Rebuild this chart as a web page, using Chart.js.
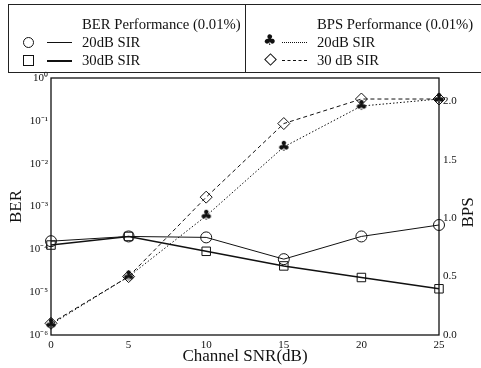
<!DOCTYPE html>
<html>
<head>
<title>BER / BPS vs Channel SNR</title>
<script src="https://cdn.jsdelivr.net/npm/chart.js"></script>
<style>
  body { margin:0; background:#fff; overflow:hidden; font-family:"Liberation Serif", serif; color:#111; }
  #wrap { position:relative; width:481px; height:368px; }
  #wrap canvas { position:absolute; left:0; top:0; }
  .box { position:absolute; left:8px; top:4px; width:490px; height:67px; border:1px solid #222; }
  .divider { position:absolute; left:245px; top:4px; width:1px; height:68px; background:#222; }
  .txt { position:absolute; font-size:14.7px; line-height:18px; white-space:nowrap; }
  .ln { position:absolute; width:25px; height:0; }
  .mk { position:absolute; box-sizing:border-box; }
</style>
</head>
<body>
<div id="wrap">
  <canvas id="myChart" width="481" height="368"></canvas>
  <div class="box"></div>
  <div class="divider"></div>

  <div class="txt" style="left:82px; top:15px;">BER Performance (0.01%)</div>
  <div class="mk" style="left:23px; top:37px; width:11px; height:11px; border:1px solid #111; border-radius:50%;"></div>
  <div class="ln" style="left:47px; top:42px; border-top:1px solid #111;"></div>
  <div class="txt" style="left:82px; top:33px;">20dB SIR</div>
  <div class="mk" style="left:23px; top:55px; width:11px; height:11px; border:1px solid #111;"></div>
  <div class="ln" style="left:47px; top:60px; border-top:2px solid #111;"></div>
  <div class="txt" style="left:82px; top:51px;">30dB SIR</div>

  <div class="txt" style="left:317px; top:15px;">BPS Performance (0.01%)</div>
  <div class="txt" style="left:263px; top:31px; font-family:'DejaVu Sans'; font-size:15px;">&#9827;</div>
  <div class="ln" style="left:282px; top:42px; border-top:1px dotted #111;"></div>
  <div class="txt" style="left:317px; top:33px;">20dB SIR</div>
  <div class="mk" style="left:266px; top:55px; width:9px; height:9px; border:1px solid #111; transform:rotate(45deg);"></div>
  <div class="ln" style="left:282px; top:60px; border-top:1px dashed #111;"></div>
  <div class="txt" style="left:317px; top:51px;">30 dB SIR</div>
</div>
<script>
// values
const snr = [0, 5, 10, 15, 20, 25];
const ber20 = [1.55e-4, 2.0e-4, 1.9e-4, 5.9e-5, 2.0e-4, 3.7e-4];
const ber30 = [1.26e-4, 2.0e-4, 9.0e-5, 4.1e-5, 2.2e-5, 1.2e-5];
const bps20 = [0.09, 0.50, 1.02, 1.61, 1.96, 2.02];
const bps30 = [0.10, 0.50, 1.18, 1.81, 2.02, 2.02];

const berTicks = [1, 1e-1, 1e-2, 1e-3, 1e-4, 1e-5, 1e-6];
const berTickLabels = ['10⁰', '10⁻¹', '10⁻²', '10⁻³', '10⁻⁴', '10⁻⁵', '10⁻⁶'];
const bpsTicks = [0, 0.5, 1.0, 1.5, 2.0];

function pts(ys) {
  return snr.map((x, i) => ({ x: x, y: ys[i] }));
}

// club marker for the 20dB BPS curve
const club = document.createElement('canvas');
club.width = 14; club.height = 14;
const cc = club.getContext('2d');
cc.fillStyle = '#111';
cc.font = '14px "DejaVu Sans"';
cc.textAlign = 'center';
cc.textBaseline = 'middle';
cc.fillText('\u2663', 7, 7.5);

const ink = '#111';
const tickFont = { family: 'Liberation Serif', size: 11 };
const titleFont = { family: 'Liberation Serif', size: 17 };

// frame round the plot area + right axis title (reads bottom to top like the left one)
const framePlugin = {
  id: 'frame',
  afterDraw(chart) {
    const a = chart.chartArea, ctx = chart.ctx;
    ctx.save();
    ctx.strokeStyle = ink;
    ctx.lineWidth = 1.3;
    ctx.strokeRect(a.left, a.top, a.right - a.left, a.bottom - a.top);
    ctx.fillStyle = ink;
    ctx.font = '17px "Liberation Serif"';
    ctx.textAlign = 'center';
    ctx.textBaseline = 'middle';
    ctx.translate(469, (a.top + a.bottom) / 2 + 6);
    ctx.rotate(-Math.PI / 2);
    ctx.fillText('BPS', 0, 0);
    ctx.restore();
  }
};

new Chart(document.getElementById('myChart'), {
  type: 'line',
  data: {
    datasets: [
      { label: 'BPS 20dB SIR', data: pts(bps20), yAxisID: 'bps', borderColor: ink, borderWidth: 1,
        borderDash: [1.5, 2], pointStyle: club, pointRadius: 7, clip: false },
      { label: 'BPS 30 dB SIR', data: pts(bps30), yAxisID: 'bps', borderColor: ink, borderWidth: 1,
        borderDash: [4, 3], pointStyle: 'rectRot', pointRadius: 6, pointBorderColor: ink,
        pointBackgroundColor: 'rgba(255,255,255,0)', pointBorderWidth: 1, clip: false },
      { label: 'BER 20dB SIR', data: pts(ber20), yAxisID: 'ber', borderColor: ink, borderWidth: 1,
        pointStyle: 'circle', pointRadius: 5.5, pointBorderColor: ink,
        pointBackgroundColor: 'rgba(255,255,255,0)', pointBorderWidth: 1, clip: false },
      { label: 'BER 30dB SIR', data: pts(ber30), yAxisID: 'ber', borderColor: ink, borderWidth: 1.5,
        pointStyle: 'rect', pointRadius: 6, pointBorderColor: ink,
        pointBackgroundColor: 'rgba(255,255,255,0)', pointBorderWidth: 1, clip: false }
    ]
  },
  options: {
    responsive: false,
    animation: false,
    layout: { padding: { top: 78, left: 0, right: 0, bottom: 0 } },
    plugins: { legend: { display: false }, tooltip: { enabled: false } },
    elements: { line: { tension: 0 } },
    scales: {
      x: {
        type: 'linear', min: 0, max: 25,
        grid: { display: false, drawTicks: false }, border: { display: false },
        afterBuildTicks: s => { s.ticks = snr.map(v => ({ value: v })); },
        afterFit: s => { s.height = 33; },
        ticks: { color: ink, font: tickFont, padding: 4, maxRotation: 0 },
        title: { display: true, text: 'Channel SNR(dB)', color: ink, font: titleFont, padding: { top: 0, bottom: 1 } }
      },
      ber: {
        type: 'logarithmic', position: 'left', min: 1e-6, max: 1,
        grid: { display: false, drawTicks: false }, border: { display: false },
        afterBuildTicks: s => { s.ticks = berTicks.map(v => ({ value: v })); },
        afterFit: s => { s.width = 51; },
        ticks: { color: ink, font: tickFont, padding: 3,
          callback: (v) => berTickLabels[berTicks.indexOf(v)] },
        title: { display: true, text: 'BER', color: ink, font: titleFont, padding: { top: 6, bottom: 0 } }
      },
      bps: {
        type: 'linear', position: 'right', min: 0, max: 2.2,
        grid: { display: false, drawTicks: false }, border: { display: false },
        afterBuildTicks: s => { s.ticks = bpsTicks.map(v => ({ value: v })); },
        afterFit: s => { s.width = 42; },
        ticks: { color: ink, font: tickFont, padding: 4, callback: v => v.toFixed(1) }
      }
    }
  },
  plugins: [framePlugin]
});
</script>
</body>
</html>
